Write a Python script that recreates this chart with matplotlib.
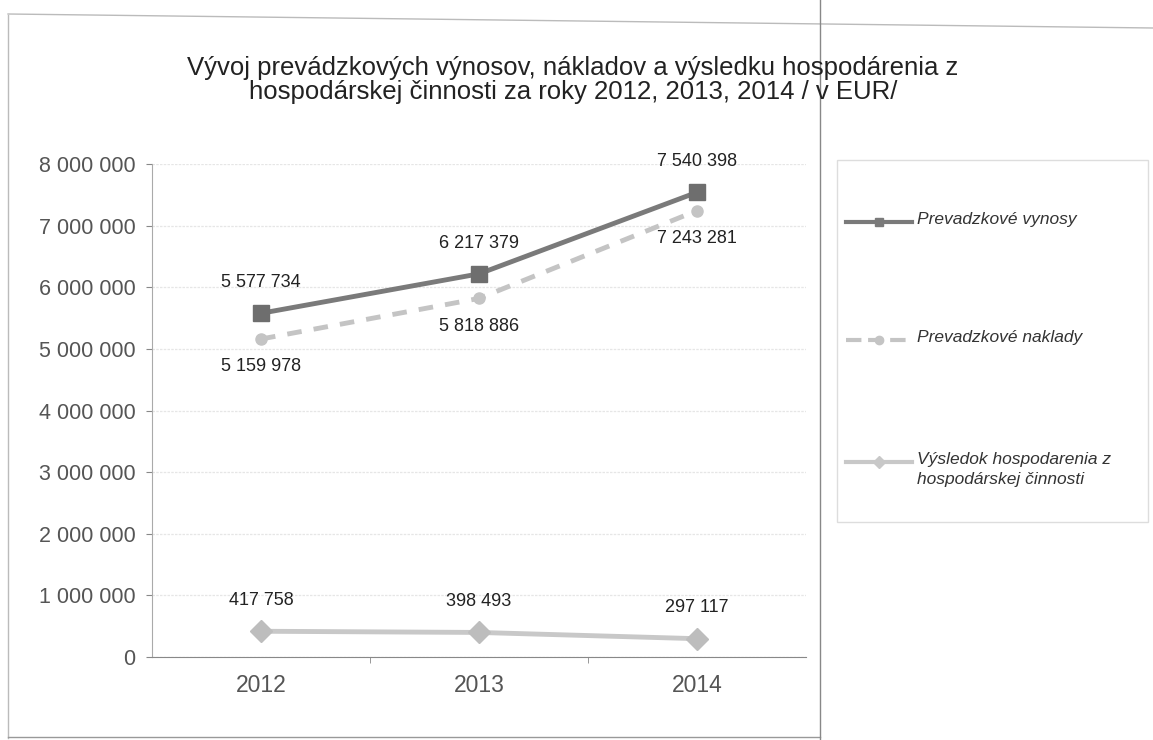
import matplotlib
matplotlib.use("Agg")
import matplotlib.pyplot as plt
from matplotlib.patches import Rectangle
from matplotlib.lines import Line2D

years = ["2012", "2013", "2014"]
vynosy = [5577734, 6217379, 7540398]
naklady = [5159978, 5818886, 7243281]
vysledok = [417758, 398493, 297117]
series_names = ["Prevadzkové vynosy", "Prevadzkové naklady",
                "Výsledok hospodarenia z\nhospodárskej činnosti"]
yticks = [0, 1000000, 2000000, 3000000, 4000000, 5000000, 6000000, 7000000, 8000000]
title = ("Vývoj prevádzkových výnosov, nákladov a výsledku hospodárenia z\n"
         "hospodárskej činnosti za roky 2012, 2013, 2014 / v EUR/")

plt.rcParams['font.family'] = ['Liberation Sans', 'DejaVu Sans']

W, H = 1153, 740
fig = plt.figure(figsize=(W / 100, H / 100), dpi=100)
ax = fig.add_axes([152 / W, 1 - 657 / H, (806 - 152) / W, (657 - 164) / H])

x = list(range(len(years)))
c1, c2, c3 = "#7a7a7a", "#c4c4c4", "#c8c8c8"
ax.plot(x, vynosy, color=c1, lw=3.5, marker="s", ms=12, mfc="#6e6e6e", mec="#6e6e6e", zorder=4)
ax.plot(x, naklady, color=c2, lw=3.5, ls=(0, (3, 2.5)), marker="o", ms=8, mfc=c2, mec=c2, zorder=3)
ax.plot(x, vysledok, color=c3, lw=3.5, marker="D", ms=11, mfc="#bdbdbd", mec="#bdbdbd", zorder=3)

def fmt(v):
    return f"{v:,}".replace(",", " ")

lab_kw = dict(fontsize=13, color="#222222", ha="center")
for i, v in enumerate(vynosy):
    ax.annotate(fmt(v), (i, v), xytext=(0, 16), textcoords="offset points", va="bottom", **lab_kw)
for i, v in enumerate(naklady):
    ax.annotate(fmt(v), (i, v), xytext=(0, -14), textcoords="offset points", va="top", **lab_kw)
for i, v in enumerate(vysledok):
    ax.annotate(fmt(v), (i, v), xytext=(0, 16), textcoords="offset points", va="bottom", **lab_kw)

ax.set_xlim(-0.5, 2.5)
ax.set_ylim(0, 8000000)
ax.set_yticks(yticks)
ax.set_yticklabels([fmt(t) for t in yticks], fontsize=15.5, color="#555555")
ax.set_xticks(x)
ax.set_xticklabels(years, fontsize=16.5, color="#555555")
ax.set_xticks([0.5, 1.5], minor=True)
ax.tick_params(axis="x", which="major", length=0, pad=12)
ax.tick_params(axis="x", which="minor", length=4, color="#888888")
ax.tick_params(axis="y", length=4, color="#888888", pad=8)
ax.grid(axis="y", color="#e6e6e6", lw=0.9, ls=(0, (2, 1)))
ax.set_axisbelow(True)
for s in ["top", "right"]:
    ax.spines[s].set_visible(False)
ax.spines["left"].set_color("#aaaaaa")
ax.spines["bottom"].set_color("#888888")

fig.text(573 / W, 1 - 80 / H, title, ha="center", va="center", fontsize=18.5,
         color="#222222", linespacing=1.0)

# legend frame
fig.patches.append(Rectangle((837 / W, 1 - 522 / H), (1148 - 837) / W, (522 - 160) / H,
                             transform=fig.transFigure, fill=False, ec="#dddddd", lw=1))
handles = [
    Line2D([], [], color=c1, lw=3, marker="s", ms=7, mfc="#6e6e6e", mec="#6e6e6e"),
    Line2D([], [], color=c2, lw=3, ls=(0, (3, 2.5)), marker="o", ms=6, mfc=c2, mec=c2),
    Line2D([], [], color=c3, lw=3, marker="D", ms=6, mfc="#bdbdbd", mec="#bdbdbd"),
]
leg_y = [222, 340, 462]
for h, name, yy in zip(handles, series_names, leg_y):
    fig.add_artist(Line2D([846 / W, 912 / W], [1 - yy / H] * 2, transform=fig.transFigure,
                          color=h.get_color(), lw=3, ls=h.get_linestyle()))
    fig.add_artist(Line2D([879 / W], [1 - yy / H], transform=fig.transFigure,
                          marker=h.get_marker(), ms=6, color=h.get_color(), ls="none"))
    fig.text(917 / W, 1 - (yy - 10) / H, name, ha="left", va="top", fontsize=12.5,
             style="italic", color="#333333", linespacing=1.45)

# scan frame lines
fig.add_artist(Line2D([8 / W, 8 / W], [1 - 15 / H, 1 - 738 / H], transform=fig.transFigure,
                      color="#bbbbbb", lw=1))
fig.add_artist(Line2D([8 / W, 1153 / W], [1 - 14 / H, 1 - 28 / H], transform=fig.transFigure,
                      color="#bbbbbb", lw=1))
fig.add_artist(Line2D([8 / W, 820 / W], [1 - 737 / H, 1 - 737 / H], transform=fig.transFigure,
                      color="#999999", lw=1))
fig.add_artist(Line2D([820 / W, 820 / W], [0, 1], transform=fig.transFigure,
                      color="#888888", lw=1))

fig.savefig("out.png", dpi=100)
